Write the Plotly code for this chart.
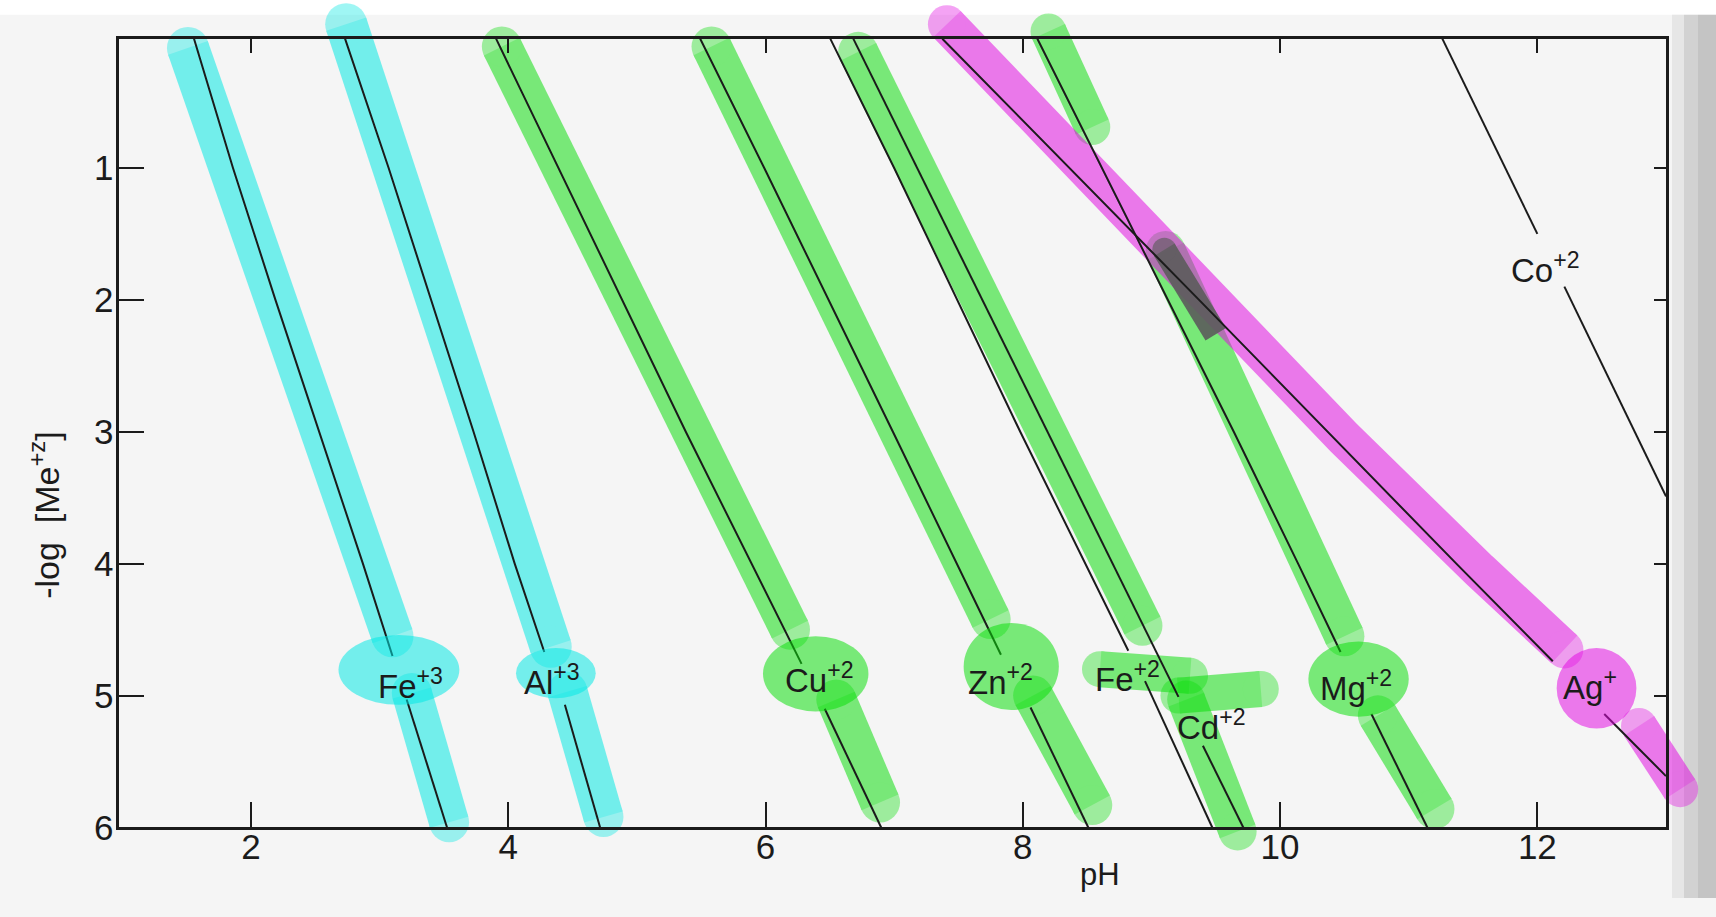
import plotly.graph_objects as go

# ------------------------------------------------------------------ axes
PH_MIN, PH_MAX = 0.97, 13.0
Y_TOP, Y_BOT = 0.02, 6.0
x_ticks = [2, 4, 6, 8, 10, 12]
y_ticks = [1, 2, 3, 4, 5, 6]
y_ticks_right = [1, 2, 3, 4, 5]

# ------------------------------------------------------------------ solubility lines (pH, -log[Me+z]); None = gap behind label
fe3_pH = [1.557, 1.86, 2.19, 2.53, 2.87, 3.10, None, 3.21, 3.524]
fe3_y  = [0.02, 1.0, 2.0, 3.0, 4.0, 4.70, None, 5.03, 6.0]
al3_pH = [2.731, 3.07, 3.73, 4.05, 4.28, None, 4.44, 4.714]
al3_y  = [0.02, 1.0, 3.0, 4.0, 4.67, None, 5.07, 6.0]
cu2_pH = [3.905, 4.39, 5.38, 6.28, None, 6.46, 6.899]
cu2_y  = [0.02, 1.0, 3.0, 4.76, None, 5.10, 6.0]
zn2_pH = [5.492, 5.99, 6.99, 7.83, None, 8.06, 8.509]
zn2_y  = [0.02, 1.0, 3.0, 4.69, None, 5.09, 6.0]
fe2_pH = [6.503, 7.00, 7.98, 8.82, None, 8.95, 9.473]
fe2_y  = [0.02, 1.0, 3.0, 4.66, None, 4.89, 6.0]
cd2_pH = [6.682, 8.19, 9.21, None, 9.40, 9.714]
cd2_y  = [0.02, 3.0, 5.01, None, 5.38, 6.0]
mg2_pH = [8.113, 9.64, 10.14, 10.47, None, 10.71, 11.145]
mg2_y  = [0.02, 3.0, 4.0, 4.67, None, 5.14, 6.0]
ag_pH  = [7.374, 9.37, 11.37, 12.12, None, 12.52, 13.0]
ag_y   = [0.02, 2.0, 4.0, 4.74, None, 5.14, 5.61]
co2_pH = [11.261, 12.0, None, 12.21, 13.0]
co2_y  = [0.02, 1.50, None, 1.90, 3.49]

# ------------------------------------------------------------------ labels
label_text = ["Fe<sup>+3</sup>", "Al<sup>+3</sup>", "Cu<sup>+2</sup>", "Zn<sup>+2</sup>",
              "Fe<sup>+2</sup>", "Cd<sup>+2</sup>", "Mg<sup>+2</sup>", "Ag<sup>+</sup>", "Co<sup>+2</sup>"]
label_pH = [3.24, 4.34, 6.42, 7.83, 8.81, 9.47, 10.59, 12.41, 12.06]
label_y  = [4.91, 4.88, 4.87, 4.88, 4.86, 5.22, 4.93, 4.92, 1.76]

# ------------------------------------------------------------------ highlighter strokes
cyan_fe3_up_pH = [1.51, 1.82, 2.17, 2.52, 2.89, 3.10]
cyan_fe3_up_y  = [0.09, 1.0, 2.0, 3.0, 4.0, 4.55]
cyan_fe3_lo_pH = [3.25, 3.40, 3.54]
cyan_fe3_lo_y  = [4.98, 5.45, 5.96]
cyan_al3_up_pH = [2.74, 3.10, 3.45, 3.78, 4.10, 4.33]
cyan_al3_up_y  = [-0.09, 1.0, 2.0, 3.0, 4.0, 4.63]
cyan_al3_lo_pH = [4.46, 4.74]
cyan_al3_lo_y  = [4.97, 5.92]

green_cu_up_pH = [3.95, 4.40, 5.39, 6.19]
green_cu_up_y  = [0.08, 1.0, 3.0, 4.50]
green_cu_lo_pH = [6.55, 6.89]
green_cu_lo_y  = [5.03, 5.81]
green_zn_up_pH = [5.58, 7.02, 7.75]
green_zn_up_y  = [0.08, 3.0, 4.42]
green_zn_lo_pH = [8.08, 8.54]
green_zn_lo_y  = [5.00, 5.83]
green_cd_up_pH = [6.72, 8.22, 8.93]
green_cd_up_y  = [0.12, 3.0, 4.47]
green_fe2_lab_pH = [8.60, 9.30]
green_fe2_lab_y  = [4.80, 4.85]
green_cd_lab_pH = [9.21, 9.85]
green_cd_lab_y  = [5.00, 4.95]
green_cd_lo_pH = [9.27, 9.67]
green_cd_lo_y  = [5.03, 6.03]
green_mg_top_pH = [8.20, 8.54]
green_mg_top_y  = [-0.035, 0.69]
green_mg_mid_pH = [9.11, 9.80, 10.50]
green_mg_mid_y  = [1.63, 3.10, 4.55]
green_mg_lo_pH = [10.76, 11.20]
green_mg_lo_y  = [5.15, 5.86]

magenta_ag_up_pH = [7.41, 8.52, 9.50, 10.50, 11.55, 12.21]
magenta_ag_up_y  = [-0.09, 1.05, 2.03, 3.05, 4.05, 4.65]
magenta_ag_lo_pH = [12.79, 13.11]
magenta_ag_lo_y  = [5.23, 5.71]

overlap_pH = [9.10, 9.50]
overlap_y  = [1.62, 2.26]

# label blobs (ellipses): pH range, y range
blob_pH0 = [2.68, 4.06, 5.98, 7.54, 10.22, 12.15]
blob_pH1 = [3.62, 4.68, 6.80, 8.28, 11.00, 12.77]
blob_y0  = [4.54, 4.64, 4.55, 4.45, 4.59, 4.64]
blob_y1  = [5.07, 5.02, 5.12, 5.11, 5.16, 5.25]
blob_kind = ["cyan", "cyan", "green", "green", "green", "magenta"]

# ------------------------------------------------------------------ styling / geometry
FW, FH = 1716, 917
L_PX, R_PX, T_PX, B_PX = 118.5, 1666.0, 39.5, 845.0
FONT = "Liberation Sans"
INK = "#1b1b1b"
HL = {"cyan": "rgb(0,232,228)", "green": "rgb(10,222,10)", "magenta": "rgb(226,10,226)"}
HL_OPA = 0.53

sx = (R_PX - L_PX) / (PH_MAX - PH_MIN)
sy = (B_PX - T_PX) / (Y_BOT - Y_TOP)
full_x_range = [PH_MIN - L_PX / sx, PH_MAX + (FW - R_PX) / sx]
full_y_range = [Y_BOT + (FH - B_PX) / sy, Y_TOP - T_PX / sy]

fig = go.Figure()


def stroke(xs, ys, kind, width):
    # one trace: line body + round caps at the two ends, trace-level transparency
    sizes = [width] + [0] * (len(xs) - 2) + [width]
    fig.add_trace(go.Scatter(
        x=xs, y=ys, xaxis="x", yaxis="y", mode="lines+markers",
        line=dict(color=HL[kind], width=width),
        marker=dict(color=HL[kind], size=sizes, line=dict(width=0)),
        opacity=HL_OPA, hoverinfo="skip", showlegend=False))


stroke(cyan_fe3_up_pH, cyan_fe3_up_y, "cyan", 42)
stroke(cyan_fe3_lo_pH, cyan_fe3_lo_y, "cyan", 40)
stroke(cyan_al3_up_pH, cyan_al3_up_y, "cyan", 42)
stroke(cyan_al3_lo_pH, cyan_al3_lo_y, "cyan", 40)
stroke(green_cu_up_pH, green_cu_up_y, "green", 40)
stroke(green_cu_lo_pH, green_cu_lo_y, "green", 40)
stroke(green_zn_up_pH, green_zn_up_y, "green", 40)
stroke(green_zn_lo_pH, green_zn_lo_y, "green", 40)
stroke(green_cd_up_pH, green_cd_up_y, "green", 40)
stroke(green_fe2_lab_pH, green_fe2_lab_y, "green", 36)
stroke(green_cd_lab_pH, green_cd_lab_y, "green", 36)
stroke(green_cd_lo_pH, green_cd_lo_y, "green", 38)
stroke(green_mg_top_pH, green_mg_top_y, "green", 36)
stroke(green_mg_mid_pH, green_mg_mid_y, "green", 40)
stroke(green_mg_lo_pH, green_mg_lo_y, "green", 40)
stroke(magenta_ag_up_pH, magenta_ag_up_y, "magenta", 38)
stroke(magenta_ag_lo_pH, magenta_ag_lo_y, "magenta", 36)

fig.add_trace(go.Scatter(
    x=overlap_pH, y=overlap_y, xaxis="x", yaxis="y", mode="lines+markers",
    line=dict(color="rgb(92,92,92)", width=24),
    marker=dict(color="rgb(92,92,92)", size=[24, 0], line=dict(width=0)),
    opacity=0.9, hoverinfo="skip", showlegend=False))

for x0, x1, y0, y1, k in zip(blob_pH0, blob_pH1, blob_y0, blob_y1, blob_kind):
    fig.add_shape(type="circle", xref="x", yref="y", x0=x0, x1=x1, y0=y0, y1=y1,
                  fillcolor=HL[k], opacity=HL_OPA, line=dict(width=0), layer="above")

# black solubility lines on the framed axes
for xs, ys in [(fe3_pH, fe3_y), (al3_pH, al3_y), (cu2_pH, cu2_y), (zn2_pH, zn2_y),
               (fe2_pH, fe2_y), (cd2_pH, cd2_y), (mg2_pH, mg2_y), (ag_pH, ag_y), (co2_pH, co2_y)]:
    fig.add_trace(go.Scatter(x=xs, y=ys, xaxis="x2", yaxis="y2", mode="lines",
                             line=dict(color=INK, width=2), connectgaps=False,
                             hoverinfo="skip", showlegend=False))

# invisible anchors for the top/right tick axes
fig.add_trace(go.Scatter(x=[PH_MIN], y=[Y_BOT], xaxis="x3", yaxis="y2", mode="markers",
                         marker=dict(opacity=0), hoverinfo="skip", showlegend=False))
fig.add_trace(go.Scatter(x=[PH_MIN], y=[Y_BOT], xaxis="x2", yaxis="y3", mode="markers",
                         marker=dict(opacity=0), hoverinfo="skip", showlegend=False))

for t, xv, yv in zip(label_text, label_pH, label_y):
    fig.add_annotation(text=t, x=xv, y=yv, xref="x2", yref="y2", showarrow=False,
                       xanchor="center", yanchor="middle",
                       font=dict(family=FONT, size=33, color=INK))

fig.add_annotation(text="pH", x=8.60, y=1 - 893 / FH, xref="x2", yref="paper",
                   showarrow=False, xanchor="center", yanchor="middle",
                   font=dict(family=FONT, size=31, color=INK))
fig.add_annotation(text="-log\u00a0\u00a0[Me<sup>+z</sup>]", x=45 / FW, y=3.63, xref="paper", yref="y2",
                   showarrow=False, textangle=-90, xanchor="center", yanchor="middle",
                   font=dict(family=FONT, size=34, color=INK))

# page decoration (scan): white top band, shadowed right edge
fig.add_shape(type="rect", xref="paper", yref="paper", x0=0, x1=1, y0=1 - 15 / FH, y1=1,
              fillcolor="white", line=dict(width=0), layer="below")
for x0p, x1p, c in [(1672, 1684, "#e6e6e6"), (1684, 1698, "#d2d2d2"), (1698, 1716, "#c4c4c4")]:
    fig.add_shape(type="rect", xref="paper", yref="paper", x0=x0p / FW, x1=x1p / FW, y0=0, y1=1 - 15 / FH,
                  fillcolor=c, line=dict(width=0), layer="below")

axis_common = dict(showgrid=False, zeroline=False, fixedrange=True)
tickfont = dict(family=FONT, size=35, color=INK)

fig.update_layout(
    width=FW, height=FH,
    margin=dict(l=0, r=0, t=0, b=0),
    paper_bgcolor="#f5f5f5", plot_bgcolor="rgba(0,0,0,0)",
    showlegend=False,
    xaxis=dict(domain=[0, 1], range=full_x_range, visible=False, anchor="y", **axis_common),
    yaxis=dict(domain=[0, 1], range=full_y_range, visible=False, anchor="x", **axis_common),
    xaxis2=dict(domain=[L_PX / FW, R_PX / FW], range=[PH_MIN, PH_MAX], anchor="y2",
                tickmode="array", tickvals=x_ticks, ticks="inside", ticklen=25, tickwidth=2,
                tickcolor=INK, showline=True, linewidth=3, linecolor=INK, mirror=True,
                tickfont=tickfont, ticklabelstandoff=-13, **axis_common),
    yaxis2=dict(domain=[1 - B_PX / FH, 1 - T_PX / FH], range=[Y_BOT, Y_TOP], anchor="x2",
                tickmode="array", tickvals=y_ticks, ticks="inside", ticklen=25, tickwidth=2,
                tickcolor=INK, showline=True, linewidth=3, linecolor=INK, mirror=True,
                tickfont=tickfont, ticklabelstandoff=-5, **axis_common),
    xaxis3=dict(overlaying="x2", side="top", anchor="y2", range=[PH_MIN, PH_MAX],
                tickmode="array", tickvals=x_ticks, ticks="inside", ticklen=14, tickwidth=2,
                tickcolor=INK, showticklabels=False, showline=False, **axis_common),
    yaxis3=dict(overlaying="y2", side="right", anchor="x2", range=[Y_BOT, Y_TOP],
                tickmode="array", tickvals=y_ticks_right, ticks="inside", ticklen=12, tickwidth=2,
                tickcolor=INK, showticklabels=False, showline=False, **axis_common),
)

fig.write_html("out.html", config={"displayModeBar": False},
               post_script="document.body.style.margin='0';document.body.style.overflow='hidden';")
